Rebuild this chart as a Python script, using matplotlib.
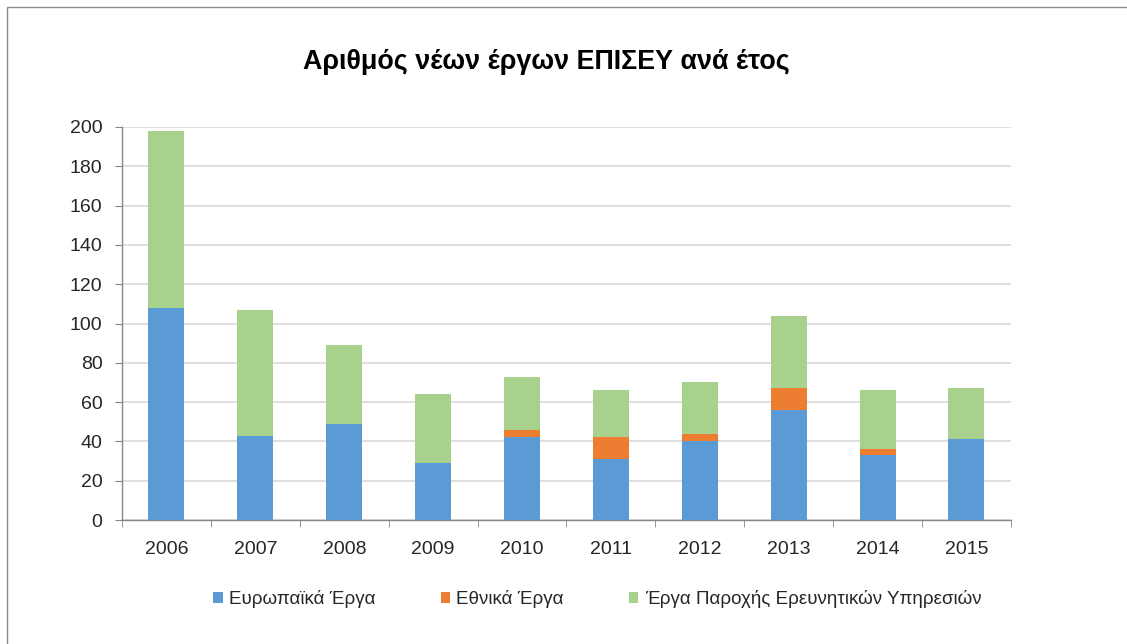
import numpy as np
import matplotlib
matplotlib.use("Agg")
import matplotlib.pyplot as plt
from matplotlib.patches import Rectangle

plt.rcParams['font.family'] = ['Liberation Sans', 'DejaVu Sans']

years = ["2006", "2007", "2008", "2009", "2010", "2011", "2012", "2013", "2014", "2015"]
european = [108, 43, 49, 29, 42, 31, 40, 56, 33, 41]
national = [0, 0, 0, 0, 4, 11, 4, 11, 3, 0]
services = [90, 64, 40, 35, 27, 24, 26, 37, 30, 26]
labels = ["Ευρωπαϊκά Έργα", "Εθνικά Έργα", "Έργα Παροχής Ερευνητικών Υπηρεσιών"]
colors = ["#5B9BD5", "#ED7D31", "#A9D18E"]

fig = plt.figure(figsize=(11.27, 6.44), dpi=100)
ax = fig.add_axes([0.1083, 0.1925, 0.7887, 0.6103])

# chart border (only top/left visible in the crop)
fig.patches.append(Rectangle((7 / 1127, -0.1), 1.2, 1 - 7 / 644 + 0.1, transform=fig.transFigure,
                             fill=False, edgecolor="#8c8c8c", linewidth=1))

x = np.arange(len(years))
w = 0.405
eu = np.array(european)
na = np.array(national)
se = np.array(services)
ax.bar(x, eu, w, color=colors[0], label=labels[0], zorder=3)
ax.bar(x, na, w, bottom=eu, color=colors[1], label=labels[1], zorder=3)
ax.bar(x, se, w, bottom=eu + na, color=colors[2], label=labels[2], zorder=3)

ax.set_xlim(-0.5, len(years) - 0.5)
ax.set_ylim(0, 200)
ax.set_yticks(np.arange(0, 201, 20))
ax.yaxis.grid(True, color="#d9d9d9", linewidth=1.2, zorder=0)
ax.set_axisbelow(True)

ax.set_xticks(x)
ax.set_xticklabels(years)
ax.set_xticks(np.arange(-0.5, len(years), 1), minor=True)
ax.tick_params(axis="x", which="major", length=0, pad=15, labelsize=14, labelcolor="#262626")
ax.tick_params(axis="x", which="minor", length=5, color="#868686", direction="out")
ax.tick_params(axis="y", length=5, color="#868686", pad=9, labelsize=14, labelcolor="#262626")

for s in ["top", "right"]:
    ax.spines[s].set_visible(False)
for s in ["left", "bottom"]:
    ax.spines[s].set_color("#868686")
    ax.spines[s].set_linewidth(1)

fig.text(0.485, 0.903, "Αριθμός νέων έργων ΕΠΙΣΕΥ ανά έτος", ha="center", va="center",
         fontsize=19.4, fontweight="bold", color="#000000")

leg = fig.legend(loc="center", bbox_to_anchor=(0.53, 0.07), ncol=3, frameon=False,
                 fontsize=13.5, handlelength=0.5, handleheight=0.5, handletextpad=0.35,
                 columnspacing=3.45)
for t in leg.get_texts():
    t.set_color("#262626")

fig.savefig("out.png", dpi=100)
